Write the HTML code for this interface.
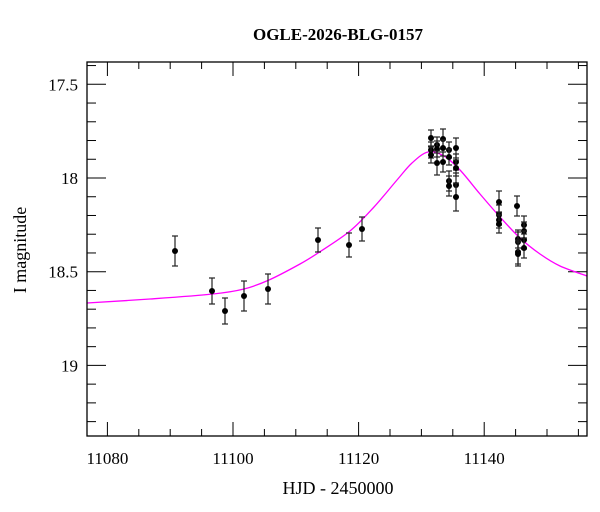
<!DOCTYPE html>
<html><head><meta charset="utf-8"><style>
body{margin:0;background:#fff}
svg{display:block;font-family:"Liberation Serif",serif}
</style></head><body>
<svg id="s" width="600" height="512" viewBox="0 0 600 512" xmlns="http://www.w3.org/2000/svg">
<rect x="0" y="0" width="600" height="512" fill="#fff"/>
<text x="338" y="40" font-size="17" font-weight="bold" text-anchor="middle">OGLE-2026-BLG-0157</text>
<text x="338" y="494" font-size="18" text-anchor="middle">HJD - 2450000</text>
<text transform="translate(26,250) rotate(-90)" font-size="18" text-anchor="middle">I magnitude</text>
<g id="g"></g>
<rect x="87" y="62" width="500" height="374" fill="none" stroke="#000" stroke-width="1.3"/>
</svg>
<script>
const g=document.getElementById('g');let h='';
const L=87,R=587,T=62,B=436;
const X=t=>107.4+(t-11080)*6.28, Y=m=>84.3+(m-17.5)*187.4;
for(let t=11080;t<=11155;t+=5){const x=X(t),len=(t%20==0)?14:7;
h+=`<line x1="${x}" y1="${B}" x2="${x}" y2="${B-len}" stroke="#000"/><line x1="${x}" y1="${T}" x2="${x}" y2="${T+len}" stroke="#000"/>`;
if(t%20==0)h+=`<text x="${x}" y="464" font-size="17" text-anchor="middle">${t}</text>`;}
for(let k=174;k<=193;k++){const m=k/10,y=Y(m);if(y<T||y>B)continue;const maj=(k%5==0),len=maj?19:9;
h+=`<line x1="${L}" y1="${y}" x2="${L+len}" y2="${y}" stroke="#000"/><line x1="${R}" y1="${y}" x2="${R-len}" y2="${y}" stroke="#000"/>`;
if(maj)h+=`<text x="78" y="${y+6}" font-size="17" text-anchor="end">${k%10==0?k/10:m.toFixed(1)}</text>`;}
const c=[[87,303],[150,299],[213,294],[244,289],[269,280],[300,264],[318,253],[350,231],[374,207],[397,180],[412,163],[428,152],[444,156],[460,170],[480,194],[500,217],[520,238],[540,254],[560,266],[587,276]];
let d=`M${c[0][0]},${c[0][1]}`;
for(let i=0;i<c.length-1;i++){const p0=c[Math.max(0,i-1)],p1=c[i],p2=c[i+1],p3=c[Math.min(c.length-1,i+2)];
d+=` C${p1[0]+(p2[0]-p0[0])/6},${p1[1]+(p2[1]-p0[1])/6} ${p2[0]-(p3[0]-p1[0])/6},${p2[1]-(p3[1]-p1[1])/6} ${p2[0]},${p2[1]}`;}
h+=`<path d="${d}" fill="none" stroke="#f0f" stroke-width="1.3"/>`;
const pts=[[175,251,15],[212,291,13],[225,311,13],[244,296,15],[268,289,15],[318,240,12],[349,245,12],[362,229,12],
[431,138,8],[431,150,8],[431,155,8],[437,145,8],[437,149,8],[437,163,12],[443,139,10],[443,148,8],[443,162,10],[449,150,8],[449,157,8],[449,181,10],[449,186,10],
[456,148,10],[456,162,8],[456,168,8],[456,185,12],[456,197,14],
[499,202,11],[499,215,10],[499,220,8],[499,224,9],[517,206,10],[518,239,9],[518,242,10],[518,252,12],[518,254,12],[524,225,9],[524,231,9],[524,240,9],[524,248,10]];
for(const [x,y,e] of pts){h+=`<line x1="${x}" y1="${y-e}" x2="${x}" y2="${y+e}" stroke="#222" stroke-width="1.2"/><line x1="${x-3}" y1="${y-e}" x2="${x+3}" y2="${y-e}" stroke="#222" stroke-width="1.2"/><line x1="${x-3}" y1="${y+e}" x2="${x+3}" y2="${y+e}" stroke="#222" stroke-width="1.2"/><circle cx="${x}" cy="${y}" r="3" fill="#000"/>`;}
g.innerHTML=h;
</script>
</body></html>
